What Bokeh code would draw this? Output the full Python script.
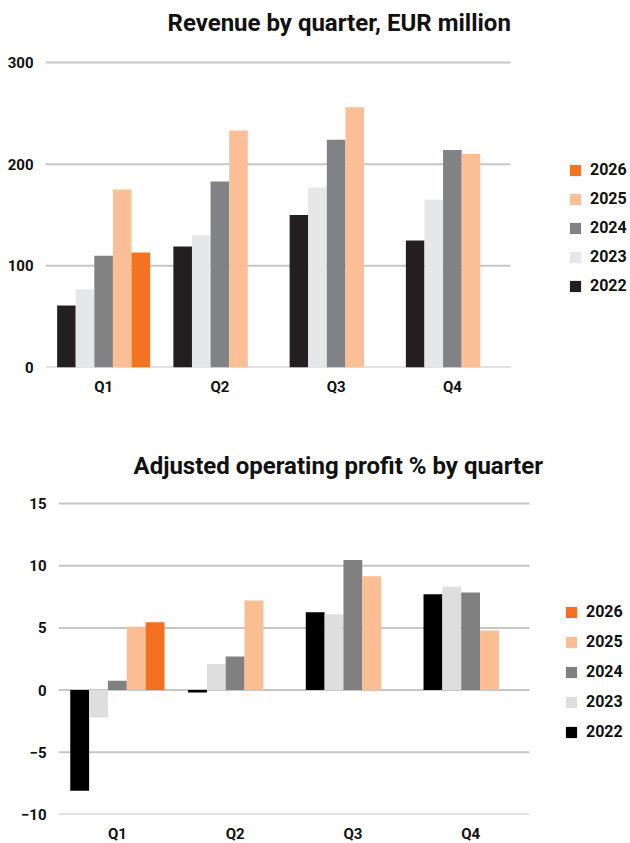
from bokeh.plotting import figure
from bokeh.models import Range1d, ColumnDataSource, Legend, LegendItem, FixedTicker, Label
from bokeh.layouts import column
from bokeh.embed import file_html
from bokeh.resources import INLINE

quarters = ["Q1", "Q2", "Q3", "Q4"]
years = ["2022", "2023", "2024", "2025", "2026"]

revenue_2022 = [61, 119, 150, 125]
revenue_2023 = [77, 130, 177, 165]
revenue_2024 = [110, 183, 224, 214]
revenue_2025 = [175, 233, 256, 210]
revenue_2026 = [113]          # Q1 only
revenue_ticks = [0, 100, 200, 300]

profit_2022 = [-8.1, -0.2, 6.25, 7.7]
profit_2023 = [-2.2, 2.1, 6.1, 8.3]
profit_2024 = [0.75, 2.7, 10.45, 7.85]
profit_2025 = [5.1, 7.2, 9.15, 4.8]
profit_2026 = [5.45]          # Q1 only
profit_ticks = [-10, -5, 0, 5, 10, 15]

FONT = "Roboto"
top_colors = ["#231f20", "#e6e7e8", "#808285", "#fbbf95", "#f47321"]
bot_colors = ["#000000", "#dedede", "#808080", "#fbbd92", "#f37021"]
offsets = [-0.32, -0.16, 0.0, 0.16, 0.32]
BAR_W = 0.16


def make_chart(title, series, colors, ticks, frame_w, frame_h, cat_px,
               axis_px, head_px, left, bottom, title_pos, legend_loc,
               legend_spacing):
    """axis_px: pixel span between first and last tick; head_px: free space
    above the last tick (room for the title, inside the frame)."""
    n = len(quarters)
    lo, hi = ticks[0], ticks[-1]
    y_end = lo + (hi - lo) * (axis_px + head_px) / axis_px
    p = figure(x_range=Range1d(0, frame_w / cat_px), y_range=Range1d(lo, y_end),
               frame_width=frame_w, frame_height=frame_h,
               output_backend="svg", toolbar_location=None,
               min_border_left=left, min_border_right=0,
               min_border_top=0, min_border_bottom=bottom)
    p.frame_align = False
    p.outline_line_color = None

    p.add_layout(Label(x=title_pos[0], y=title_pos[1], x_units="screen",
                       y_units="screen", text=title, text_font=FONT,
                       text_font_size="24px", text_font_style="bold",
                       text_color="#111111", text_align="left",
                       text_baseline="middle"))

    # horizontal gridlines across the category area only
    p.segment(x0=[0] * len(ticks), x1=[n] * len(ticks), y0=ticks, y1=ticks,
              line_color="#c6c6c6", line_width=2)

    centers = [i + 0.5 for i in range(n)]
    items = []
    for i, (yname, vals) in enumerate(zip(years, series)):
        src = ColumnDataSource(dict(x=[c + offsets[i] for c in centers[:len(vals)]],
                                    v=vals))
        r = p.vbar(x="x", top="v", bottom=0, width=BAR_W, source=src,
                   fill_color=colors[i], line_color=None)
        items.append(LegendItem(label=yname, renderers=[r]))
    items.reverse()
    leg = Legend(items=items, location=legend_loc)
    leg.margin = 0
    leg.padding = 0
    leg.border_line_color = None
    leg.background_fill_alpha = 0
    leg.glyph_width = 14
    leg.glyph_height = 14
    leg.label_height = 14
    leg.spacing = legend_spacing
    leg.label_standoff = 8
    leg.label_text_font = FONT
    leg.label_text_font_style = "bold"
    leg.label_text_font_size = "16px"
    leg.label_text_color = "#111111"
    p.add_layout(leg)

    p.grid.visible = False
    p.yaxis.ticker = FixedTicker(ticks=ticks)
    p.xaxis.ticker = FixedTicker(ticks=centers)
    p.xaxis.major_label_overrides = {c: q for c, q in zip(centers, quarters)}
    for ax in (p.xaxis, p.yaxis):
        ax.axis_line_color = None
        ax.major_tick_line_color = None
        ax.minor_tick_line_color = None
        ax.major_label_text_font = FONT
        ax.major_label_text_font_style = "bold"
        ax.major_label_text_font_size = "15px"
        ax.major_label_text_color = "#111111"
    p.yaxis.major_label_standoff = 6
    p.xaxis.major_label_standoff = 4
    return p


# top: category = 116.25 px; frame from x=45, y=0..367; ticks span 305 px
p1 = make_chart("Revenue by quarter, EUR million",
                [revenue_2022, revenue_2023, revenue_2024, revenue_2025, revenue_2026],
                top_colors, revenue_ticks,
                frame_w=585, frame_h=367, cat_px=116.25, axis_px=305, head_px=62,
                left=45, bottom=55, title_pos=(122, 345),
                legend_loc=(523, 72), legend_spacing=10)
# bottom: category = 117.75 px; frame from x=58, y=422..814; ticks span 311 px
p2 = make_chart("Adjusted operating profit % by quarter",
                [profit_2022, profit_2023, profit_2024, profit_2025, profit_2026],
                bot_colors, profit_ticks,
                frame_w=572, frame_h=392, cat_px=117.75, axis_px=311, head_px=81,
                left=58, bottom=28, title_pos=(75, 349),
                legend_loc=(506, 73), legend_spacing=11)

layout = column(p1, p2, spacing=0)
open("out.html", "w").write(file_html(layout, INLINE))
